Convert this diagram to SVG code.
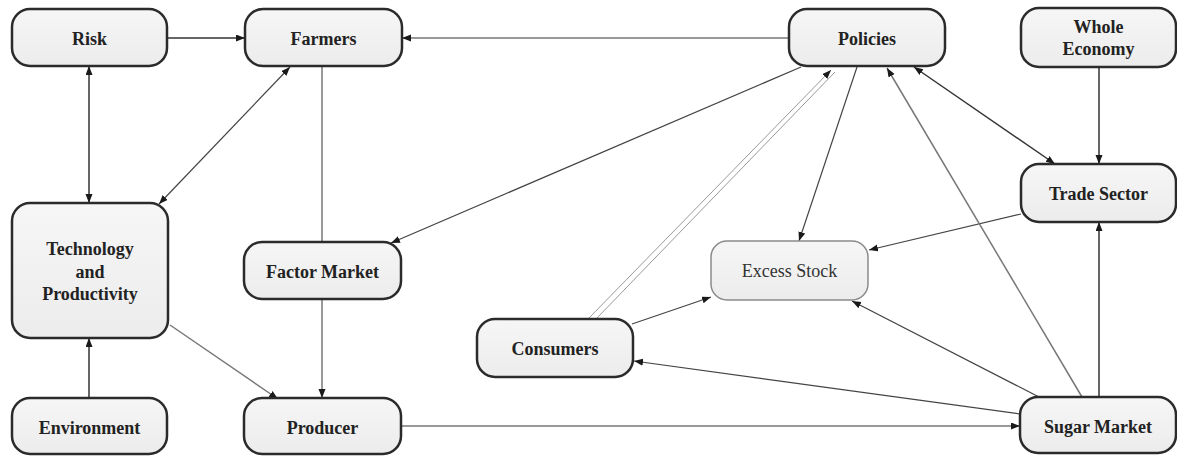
<svg xmlns="http://www.w3.org/2000/svg" width="1177" height="457" viewBox="0 0 1177 457">
<style>
.node rect{fill:url(#nf);stroke:#2b2b2b;stroke-width:2.5}
.node.light rect{stroke:#8a8a8a;stroke-width:1.5}
.node text{font-size:18px;font-weight:bold;fill:#222;text-anchor:middle}
.node.light text{font-weight:normal;fill:#333}
.c line{stroke:#444;stroke-width:1.2;fill:none}
.c .g{stroke:#777;stroke-width:1.5}
.c .dk{stroke:#333;stroke-width:1.5}
.c .lt{stroke:#999;stroke-width:1}
</style>
<defs>
<linearGradient id="nf" x1="0" y1="0" x2="0" y2="1">
<stop offset="0" stop-color="#f6f6f6"/>
<stop offset="1" stop-color="#ececec"/>
</linearGradient>
<marker id="ah" markerUnits="userSpaceOnUse" markerWidth="10" markerHeight="8" refX="9" refY="3.5" orient="auto-start-reverse">
<path d="M0,0 L9,3.5 L0,7 z" fill="#1a1a1a"/>
</marker>
</defs>
<rect width="1177" height="457" fill="#ffffff"/>
<g id="connectors" class="c">
<line class="dk" x1="167" y1="38" x2="245" y2="38" marker-end="url(#ah)"/>
<line class="g" x1="789" y1="38" x2="402" y2="38" marker-end="url(#ah)"/>
<line class="dk" x1="89" y1="66" x2="89" y2="203" marker-start="url(#ah)" marker-end="url(#ah)"/>
<line x1="290" y1="67" x2="159" y2="204" marker-start="url(#ah)" marker-end="url(#ah)"/>
<line class="g" x1="322" y1="66" x2="322" y2="242"/>
<line class="g" x1="322" y1="299" x2="322" y2="398" marker-end="url(#ah)"/>
<line class="dk" x1="89" y1="398" x2="89" y2="338" marker-end="url(#ah)"/>
<line class="g" x1="170" y1="325" x2="278" y2="399" marker-end="url(#ah)"/>
<line x1="801" y1="67" x2="391" y2="243" marker-end="url(#ah)"/>
<line class="lt" x1="589" y1="318" x2="831" y2="70" marker-end="url(#ah)"/>
<line class="lt" x1="596" y1="319" x2="835" y2="72"/>
<line x1="857" y1="67" x2="799" y2="241" marker-end="url(#ah)"/>
<line x1="632" y1="324" x2="711" y2="297" marker-end="url(#ah)"/>
<line x1="1021" y1="214" x2="869" y2="250" marker-end="url(#ah)"/>
<line x1="1039" y1="397" x2="852" y2="301" marker-end="url(#ah)"/>
<line x1="1020" y1="414" x2="634" y2="361" marker-end="url(#ah)"/>
<line class="g" x1="401" y1="426" x2="1020" y2="426" marker-end="url(#ah)"/>
<line class="g" x1="1082" y1="397" x2="887" y2="68" marker-end="url(#ah)"/>
<line class="dk" x1="914" y1="67" x2="1055" y2="164" marker-start="url(#ah)" marker-end="url(#ah)"/>
<line class="dk" x1="1099" y1="67" x2="1099" y2="164" marker-end="url(#ah)"/>
<line class="dk" x1="1099" y1="397" x2="1099" y2="222" marker-end="url(#ah)"/>
</g>
<g font-family="'Liberation Serif', 'DejaVu Serif', 'Times New Roman', serif">
<g id="risk" class="node"><rect x="12" y="9" width="155" height="57" rx="18"/><text x="89.5" y="44.5">Risk</text></g>
<g id="farmers" class="node"><rect x="245" y="9" width="157" height="57" rx="18"/><text x="323.5" y="44.5">Farmers</text></g>
<g id="policies" class="node"><rect x="789" y="9" width="156" height="57" rx="18"/><text x="867" y="44.5">Policies</text></g>
<g id="whole-economy" class="node"><rect x="1021" y="8" width="155" height="59" rx="18"/><text x="1098.5" y="33">Whole</text><text x="1098.5" y="55">Economy</text></g>
<g id="trade-sector" class="node"><rect x="1021" y="164" width="155" height="58" rx="18"/><text x="1098.5" y="199.5">Trade Sector</text></g>
<g id="technology" class="node"><rect x="12" y="203" width="156" height="135" rx="18"/><text x="90" y="255">Technology</text><text x="90" y="278">and</text><text x="90" y="300">Productivity</text></g>
<g id="factor-market" class="node"><rect x="244" y="242" width="157" height="57" rx="18"/><text x="322.5" y="277.5">Factor Market</text></g>
<g id="excess-stock" class="node light"><rect x="711" y="241" width="157" height="59" rx="16"/><text x="789.5" y="277">Excess Stock</text></g>
<g id="consumers" class="node"><rect x="477" y="319" width="156" height="58" rx="18"/><text x="555" y="355">Consumers</text></g>
<g id="environment" class="node"><rect x="12" y="398" width="155" height="56" rx="18"/><text x="89.5" y="433.5">Environment</text></g>
<g id="producer" class="node"><rect x="244" y="398" width="157" height="56" rx="18"/><text x="322.5" y="433.5">Producer</text></g>
<g id="sugar-market" class="node"><rect x="1020" y="397" width="156" height="56" rx="18"/><text x="1098" y="432.5">Sugar Market</text></g>
</g>
</svg>
